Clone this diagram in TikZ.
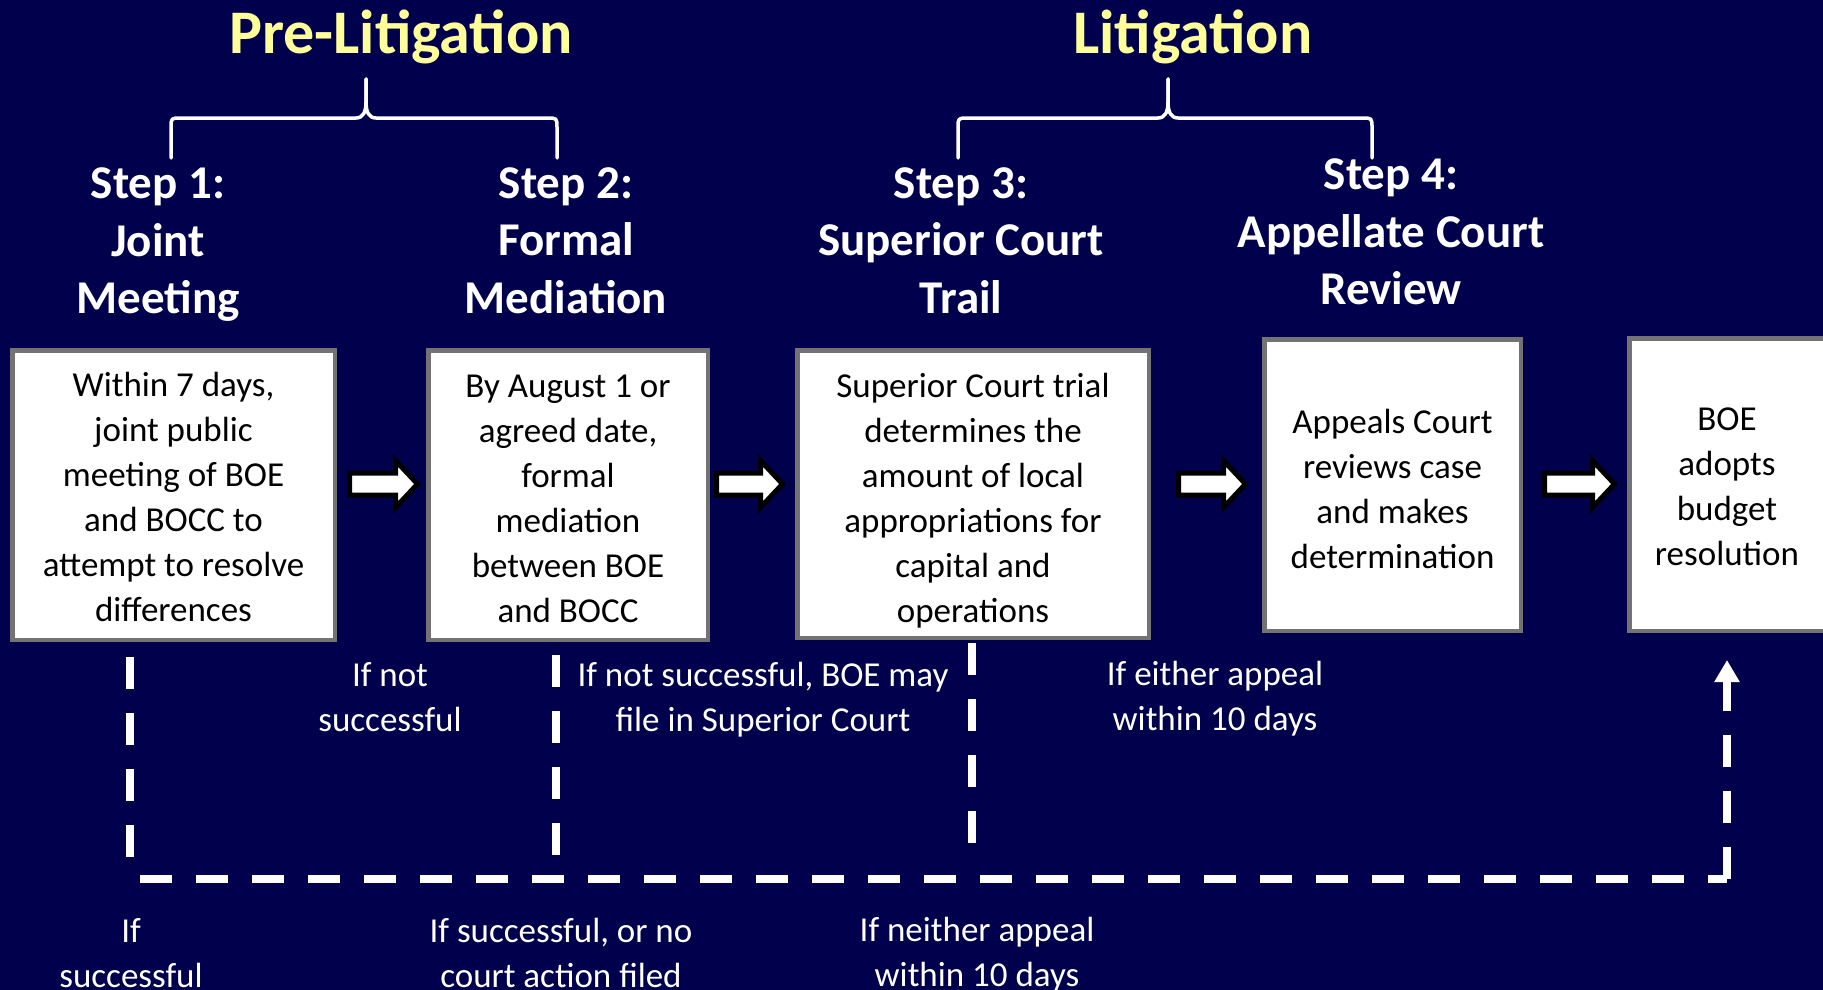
\documentclass[tikz,border=0pt]{standalone}
\usepackage{fontspec}
\setmainfont{Carlito}
\usetikzlibrary{arrows.meta,calc}
\definecolor{navybg}{RGB}{1,0,76}
\definecolor{titleyellow}{RGB}{255,255,153}
\definecolor{boxgray}{RGB}{115,115,115}
\newcommand{\fatarrow}[2]{%
  \draw[blockarrow] let \p1=(#1), \p2=(#2) in
    (\x1,\y1+11pt) -- (\x2-22pt,\y1+11pt) -- (\x2-22pt,\y1+23.5pt) -- (\x2,\y1)
    -- (\x2-22pt,\y1-23.5pt) -- (\x2-22pt,\y1-11pt) -- (\x1,\y1-11pt) -- cycle;}
\newcommand{\toprule}[1]{\rule{0pt}{#1pt}}
\begin{document}
\begin{tikzpicture}[x=1pt,y=-1pt,
  stepbox/.style={draw=boxgray, line width=4.5pt, fill=white, align=center, inner sep=0pt,
    text=black, font=\fontsize{35}{45}\selectfont},
  heading/.style={align=center, text=white, inner sep=0pt, font=\fontsize{47}{57.5}\selectfont\bfseries},
  phase/.style={text=titleyellow, inner sep=0pt, anchor=base, font=\fontsize{62}{70}\selectfont\bfseries},
  cond/.style={align=center, text=white, inner sep=0pt, font=\fontsize{35}{45}\selectfont},
  dashline/.style={draw=white, line width=8pt, dash pattern=on 32pt off 24pt},
  bracket/.style={draw=white, line width=3.5pt, line join=round, line cap=round},
  blockarrow/.style={draw=black, fill=white, line width=5pt, line join=miter}]
\useasboundingbox (0,0) rectangle (1823,990);
\clip (0,0) rectangle (1823,990);
\fill[navybg] (0,0) rectangle (1823,990);

% phase titles
\node[phase] (pre) at (401,54) {Pre-Litigation};
\node[phase] (lit) at (1193,54) {Litigation};

% braces
\draw[bracket] (171,158) -- (171,128) .. controls (171,118) .. (181,118) -- (356,118)
  .. controls (363,118) and (366,112) .. (366,102) -- (366,79);
\draw[bracket] (366,79) -- (366,102) .. controls (366,112) and (369,118) .. (376,118)
  -- (547,118) .. controls (557,118) .. (557,128) -- (557,158);
\draw[bracket] (958,158) -- (958,128) .. controls (958,118) .. (968,118) -- (1158,118)
  .. controls (1165,118) and (1168,112) .. (1168,102) -- (1168,79);
\draw[bracket] (1168,79) -- (1168,102) .. controls (1168,112) and (1171,118) .. (1178,118)
  -- (1362,118) .. controls (1372,118) .. (1372,128) -- (1372,158);

% step headings
\node[heading] (h1) at (158,245) {Step 1:\\Joint\\Meeting};
\node[heading] (h2) at (566,240.5) {Step 2:\\Formal\\Mediation};
\node[heading] (h3) at (961,240.5) {Step 3:\\Superior Court\\Trail};
\node[heading] (h4) at (1391,232) {Step 4:\\Appellate Court\\Review};

% boxes
\node[stepbox, minimum width=322.5pt, minimum height=289.5pt] (box1) at (173.5,495)
  {\toprule{29}Within 7 days,\\joint public\\meeting of BOE\\and BOCC to\\attempt to resolve\\differences};
\node[stepbox, minimum width=279.5pt, minimum height=289.5pt] (box2) at (568,495)
  {\toprule{31}By August 1 or\\agreed date,\\formal\\mediation\\between BOE\\and BOCC};
\node[stepbox, minimum width=351.5pt, minimum height=287.5pt] (box3) at (973,494)
  {\toprule{37}Superior Court trial\\determines the\\amount of local\\appropriations for\\capital and\\operations};
\node[stepbox, minimum width=256.5pt, minimum height=291.5pt] (box4) at (1392.5,485)
  {\toprule{32}Appeals Court\\reviews case\\and makes\\determination};
\node[stepbox, minimum width=195.5pt, minimum height=292.5pt] (box5) at (1727,484.5)
  {\toprule{27}BOE\\adopts\\budget\\resolution};

% block arrows
\coordinate (a1s) at (349.5,484); \coordinate (a1e) at (417.5,484);
\coordinate (a2s) at (716.5,484); \coordinate (a2e) at (782.5,484);
\coordinate (a3s) at (1178.5,484); \coordinate (a3e) at (1245.5,484);
\coordinate (a4s) at (1544.5,484); \coordinate (a4e) at (1614.5,484);
\fatarrow{a1s}{a1e}
\fatarrow{a2s}{a2e}
\fatarrow{a3s}{a3e}
\fatarrow{a4s}{a4e}

% condition labels
\node[cond] (c1) at (390,697.5) {If not\\successful};
\node[cond] (c2) at (763,699.5) {If not successful, BOE may\\file in Superior Court};
\node[cond] (c3) at (1215,699) {If either appeal\\within 10 days};
\node[cond] (c4) at (131,953.5) {If\\successful};
\node[cond] (c5) at (561,952.5) {If successful, or no\\court action filed};
\node[cond] (c6) at (977,954.5) {If neither appeal\\within 10 days};

% dashed paths
\coordinate (v1a) at (130,657); \coordinate (v1b) at (130,857);
\coordinate (v2a) at (556,655); \coordinate (v2b) at (556,855);
\coordinate (v3a) at (972,643); \coordinate (v3b) at (972,843);
\coordinate (hA) at (140,879); \coordinate (hB) at (1727,879);
\draw[dashline] (v1a) -- (v1b);
\draw[dashline] (v2a) -- (v2b);
\draw[dashline] (v3a) -- (v3b);
\draw[dashline] (hA) -- (hB);
\draw[dashline, -{Triangle[width=24pt,length=22pt]}, shorten >=27pt] (hB) -- (box5.south);
\end{tikzpicture}
\end{document}
